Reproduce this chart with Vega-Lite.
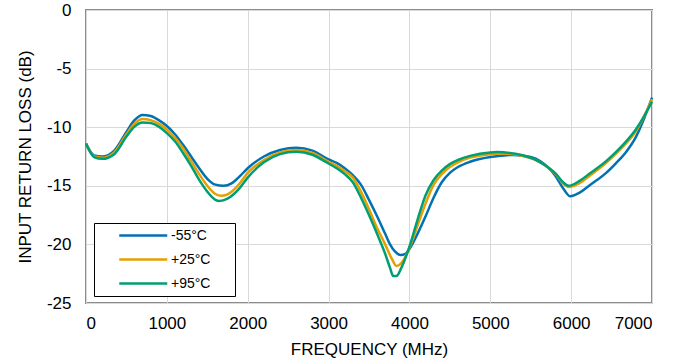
{
  "$schema": "https://vega.github.io/schema/vega-lite/v6.json",
  "width": 566,
  "height": 293,
  "autosize": {"type": "none"},
  "padding": {"left": 86, "top": 10, "right": 36, "bottom": 61},
  "background": "white",
  "title": {"text": "IN", "fontSize": 11, "font": "Liberation Sans", "fontWeight": "bold", "offset": 7, "baseline": "alphabetic", "anchor": "middle", "color": "black"},
  "config": {
    "view": {"stroke": "#8c8c8c", "strokeWidth": 2},
    "axis": {"labelFont": "Liberation Sans", "titleFont": "Liberation Sans", "labelFontSize": 17, "titleFontSize": 17, "labelColor": "black", "titleColor": "black", "titleFontWeight": "normal", "gridColor": "#d9d9d9", "gridWidth": 1, "domain": false, "ticks": false},
    "legend": {"orient": "none", "legendX": 8, "legendY": 213, "strokeColor": "black", "fillColor": "white", "padding": 5, "symbolType": "M2.125,0L10.125,0M19.7,0", "symbolSize": 144, "symbolStrokeWidth": 2.5, "labelOffset": 57, "labelFontSize": 14, "labelFont": "Liberation Sans", "labelColor": "black", "rowPadding": 9}
  },
  "data": {"values": [
    {"f": 0, "db": -11.4, "t": "-55°C"}, {"f": 100, "db": -12.4, "t": "-55°C"}, {"f": 200, "db": -12.5, "t": "-55°C"}, {"f": 350, "db": -12.0, "t": "-55°C"}, {"f": 500, "db": -10.4, "t": "-55°C"}, {"f": 600, "db": -9.4, "t": "-55°C"}, {"f": 700, "db": -8.95, "t": "-55°C"}, {"f": 800, "db": -9.05, "t": "-55°C"}, {"f": 900, "db": -9.4, "t": "-55°C"}, {"f": 1000, "db": -9.9, "t": "-55°C"}, {"f": 1100, "db": -10.6, "t": "-55°C"}, {"f": 1200, "db": -11.5, "t": "-55°C"}, {"f": 1300, "db": -12.5, "t": "-55°C"}, {"f": 1400, "db": -13.5, "t": "-55°C"}, {"f": 1500, "db": -14.4, "t": "-55°C"}, {"f": 1600, "db": -14.9, "t": "-55°C"}, {"f": 1700, "db": -15.0, "t": "-55°C"}, {"f": 1800, "db": -14.8, "t": "-55°C"}, {"f": 1900, "db": -14.2, "t": "-55°C"}, {"f": 2000, "db": -13.5, "t": "-55°C"}, {"f": 2200, "db": -12.5, "t": "-55°C"}, {"f": 2400, "db": -11.95, "t": "-55°C"}, {"f": 2600, "db": -11.75, "t": "-55°C"}, {"f": 2800, "db": -12.0, "t": "-55°C"}, {"f": 3000, "db": -12.75, "t": "-55°C"}, {"f": 3100, "db": -13.05, "t": "-55°C"}, {"f": 3200, "db": -13.5, "t": "-55°C"}, {"f": 3300, "db": -14.1, "t": "-55°C"}, {"f": 3400, "db": -14.9, "t": "-55°C"}, {"f": 3500, "db": -16.2, "t": "-55°C"}, {"f": 3600, "db": -17.6, "t": "-55°C"}, {"f": 3700, "db": -19.1, "t": "-55°C"}, {"f": 3760, "db": -20.0, "t": "-55°C"}, {"f": 3820, "db": -20.6, "t": "-55°C"}, {"f": 3890, "db": -20.9, "t": "-55°C"}, {"f": 3950, "db": -20.8, "t": "-55°C"}, {"f": 4000, "db": -20.4, "t": "-55°C"}, {"f": 4100, "db": -19.1, "t": "-55°C"}, {"f": 4200, "db": -17.6, "t": "-55°C"}, {"f": 4300, "db": -16.0, "t": "-55°C"}, {"f": 4400, "db": -14.7, "t": "-55°C"}, {"f": 4500, "db": -13.9, "t": "-55°C"}, {"f": 4600, "db": -13.4, "t": "-55°C"}, {"f": 4750, "db": -12.95, "t": "-55°C"}, {"f": 5000, "db": -12.55, "t": "-55°C"}, {"f": 5280, "db": -12.37, "t": "-55°C"}, {"f": 5500, "db": -12.55, "t": "-55°C"}, {"f": 5620, "db": -12.9, "t": "-55°C"}, {"f": 5800, "db": -14.1, "t": "-55°C"}, {"f": 5900, "db": -15.2, "t": "-55°C"}, {"f": 5990, "db": -15.9, "t": "-55°C"}, {"f": 6100, "db": -15.6, "t": "-55°C"}, {"f": 6230, "db": -14.95, "t": "-55°C"}, {"f": 6440, "db": -13.85, "t": "-55°C"}, {"f": 6550, "db": -13.1, "t": "-55°C"}, {"f": 6670, "db": -12.2, "t": "-55°C"}, {"f": 6800, "db": -10.85, "t": "-55°C"}, {"f": 6900, "db": -9.3, "t": "-55°C"}, {"f": 7000, "db": -7.48, "t": "-55°C"},

    {"f": 0, "db": -11.4, "t": "+25°C"}, {"f": 100, "db": -12.5, "t": "+25°C"}, {"f": 200, "db": -12.6, "t": "+25°C"}, {"f": 350, "db": -12.15, "t": "+25°C"}, {"f": 500, "db": -10.6, "t": "+25°C"}, {"f": 600, "db": -9.7, "t": "+25°C"}, {"f": 700, "db": -9.3, "t": "+25°C"}, {"f": 800, "db": -9.4, "t": "+25°C"}, {"f": 900, "db": -9.7, "t": "+25°C"}, {"f": 1000, "db": -10.2, "t": "+25°C"}, {"f": 1100, "db": -10.9, "t": "+25°C"}, {"f": 1200, "db": -11.8, "t": "+25°C"}, {"f": 1300, "db": -12.9, "t": "+25°C"}, {"f": 1400, "db": -14.0, "t": "+25°C"}, {"f": 1500, "db": -15.0, "t": "+25°C"}, {"f": 1600, "db": -15.7, "t": "+25°C"}, {"f": 1680, "db": -15.85, "t": "+25°C"}, {"f": 1800, "db": -15.5, "t": "+25°C"}, {"f": 1900, "db": -14.8, "t": "+25°C"}, {"f": 2000, "db": -13.9, "t": "+25°C"}, {"f": 2200, "db": -12.8, "t": "+25°C"}, {"f": 2400, "db": -12.15, "t": "+25°C"}, {"f": 2600, "db": -11.95, "t": "+25°C"}, {"f": 2800, "db": -12.2, "t": "+25°C"}, {"f": 3000, "db": -12.95, "t": "+25°C"}, {"f": 3100, "db": -13.3, "t": "+25°C"}, {"f": 3200, "db": -13.75, "t": "+25°C"}, {"f": 3300, "db": -14.3, "t": "+25°C"}, {"f": 3400, "db": -15.5, "t": "+25°C"}, {"f": 3500, "db": -17.0, "t": "+25°C"}, {"f": 3600, "db": -18.6, "t": "+25°C"}, {"f": 3700, "db": -20.0, "t": "+25°C"}, {"f": 3780, "db": -21.2, "t": "+25°C"}, {"f": 3840, "db": -21.85, "t": "+25°C"}, {"f": 3900, "db": -21.6, "t": "+25°C"}, {"f": 4000, "db": -20.3, "t": "+25°C"}, {"f": 4100, "db": -18.4, "t": "+25°C"}, {"f": 4200, "db": -16.5, "t": "+25°C"}, {"f": 4300, "db": -14.9, "t": "+25°C"}, {"f": 4400, "db": -14.0, "t": "+25°C"}, {"f": 4500, "db": -13.4, "t": "+25°C"}, {"f": 4600, "db": -13.0, "t": "+25°C"}, {"f": 4750, "db": -12.6, "t": "+25°C"}, {"f": 5000, "db": -12.3, "t": "+25°C"}, {"f": 5150, "db": -12.25, "t": "+25°C"}, {"f": 5400, "db": -12.45, "t": "+25°C"}, {"f": 5620, "db": -13.0, "t": "+25°C"}, {"f": 5820, "db": -14.1, "t": "+25°C"}, {"f": 5900, "db": -14.8, "t": "+25°C"}, {"f": 5970, "db": -15.1, "t": "+25°C"}, {"f": 6100, "db": -14.8, "t": "+25°C"}, {"f": 6230, "db": -14.15, "t": "+25°C"}, {"f": 6440, "db": -13.0, "t": "+25°C"}, {"f": 6550, "db": -12.3, "t": "+25°C"}, {"f": 6670, "db": -11.45, "t": "+25°C"}, {"f": 6800, "db": -10.35, "t": "+25°C"}, {"f": 6900, "db": -9.1, "t": "+25°C"}, {"f": 7000, "db": -7.62, "t": "+25°C"},

    {"f": 0, "db": -11.4, "t": "+95°C"}, {"f": 100, "db": -12.55, "t": "+95°C"}, {"f": 200, "db": -12.7, "t": "+95°C"}, {"f": 350, "db": -12.3, "t": "+95°C"}, {"f": 500, "db": -10.8, "t": "+95°C"}, {"f": 600, "db": -9.95, "t": "+95°C"}, {"f": 700, "db": -9.6, "t": "+95°C"}, {"f": 800, "db": -9.65, "t": "+95°C"}, {"f": 900, "db": -9.95, "t": "+95°C"}, {"f": 1000, "db": -10.5, "t": "+95°C"}, {"f": 1100, "db": -11.2, "t": "+95°C"}, {"f": 1200, "db": -12.2, "t": "+95°C"}, {"f": 1300, "db": -13.3, "t": "+95°C"}, {"f": 1400, "db": -14.5, "t": "+95°C"}, {"f": 1500, "db": -15.5, "t": "+95°C"}, {"f": 1600, "db": -16.2, "t": "+95°C"}, {"f": 1650, "db": -16.3, "t": "+95°C"}, {"f": 1750, "db": -16.1, "t": "+95°C"}, {"f": 1900, "db": -15.2, "t": "+95°C"}, {"f": 2000, "db": -14.3, "t": "+95°C"}, {"f": 2200, "db": -13.0, "t": "+95°C"}, {"f": 2400, "db": -12.3, "t": "+95°C"}, {"f": 2600, "db": -12.1, "t": "+95°C"}, {"f": 2800, "db": -12.35, "t": "+95°C"}, {"f": 3000, "db": -13.1, "t": "+95°C"}, {"f": 3100, "db": -13.5, "t": "+95°C"}, {"f": 3200, "db": -14.0, "t": "+95°C"}, {"f": 3300, "db": -14.7, "t": "+95°C"}, {"f": 3400, "db": -16.0, "t": "+95°C"}, {"f": 3500, "db": -17.5, "t": "+95°C"}, {"f": 3600, "db": -19.1, "t": "+95°C"}, {"f": 3700, "db": -20.8, "t": "+95°C"}, {"f": 3760, "db": -22.0, "t": "+95°C"}, {"f": 3800, "db": -22.7, "t": "+95°C"}, {"f": 3840, "db": -22.7, "t": "+95°C"}, {"f": 3900, "db": -22.0, "t": "+95°C"}, {"f": 4000, "db": -20.2, "t": "+95°C"}, {"f": 4100, "db": -17.9, "t": "+95°C"}, {"f": 4200, "db": -15.8, "t": "+95°C"}, {"f": 4300, "db": -14.5, "t": "+95°C"}, {"f": 4400, "db": -13.7, "t": "+95°C"}, {"f": 4500, "db": -13.15, "t": "+95°C"}, {"f": 4600, "db": -12.8, "t": "+95°C"}, {"f": 4750, "db": -12.45, "t": "+95°C"}, {"f": 5000, "db": -12.15, "t": "+95°C"}, {"f": 5080, "db": -12.12, "t": "+95°C"}, {"f": 5400, "db": -12.4, "t": "+95°C"}, {"f": 5620, "db": -13.0, "t": "+95°C"}, {"f": 5820, "db": -14.05, "t": "+95°C"}, {"f": 5900, "db": -14.7, "t": "+95°C"}, {"f": 5970, "db": -15.0, "t": "+95°C"}, {"f": 6100, "db": -14.6, "t": "+95°C"}, {"f": 6230, "db": -13.95, "t": "+95°C"}, {"f": 6440, "db": -12.85, "t": "+95°C"}, {"f": 6550, "db": -12.15, "t": "+95°C"}, {"f": 6670, "db": -11.3, "t": "+95°C"}, {"f": 6800, "db": -10.2, "t": "+95°C"}, {"f": 6900, "db": -9.1, "t": "+95°C"}, {"f": 7000, "db": -7.82, "t": "+95°C"}
  ]},
  "mark": {"type": "line", "interpolate": "monotone", "strokeWidth": 2.5},
  "encoding": {
    "x": {"field": "f", "type": "quantitative", "scale": {"domain": [0, 7000], "nice": false}, "axis": {"values": [0, 1000, 2000, 3000, 4000, 5000, 6000, 7000], "format": "d", "title": "FREQUENCY (MHz)", "labelPadding": 12, "titlePadding": 10}},
    "y": {"field": "db", "type": "quantitative", "scale": {"domain": [-25, 0], "nice": false}, "axis": {"values": [-25, -20, -15, -10, -5, 0], "format": "d", "labelExpr": "replace(datum.label, '\u2212', '-')", "title": "INPUT RETURN LOSS (dB)", "labelPadding": 15, "titlePadding": 12}},
    "color": {"field": "t", "type": "nominal", "scale": {"domain": ["-55°C", "+25°C", "+95°C"], "range": ["#0072B2", "#E69F00", "#009E73"]}, "legend": {"title": null}}
  }
}
